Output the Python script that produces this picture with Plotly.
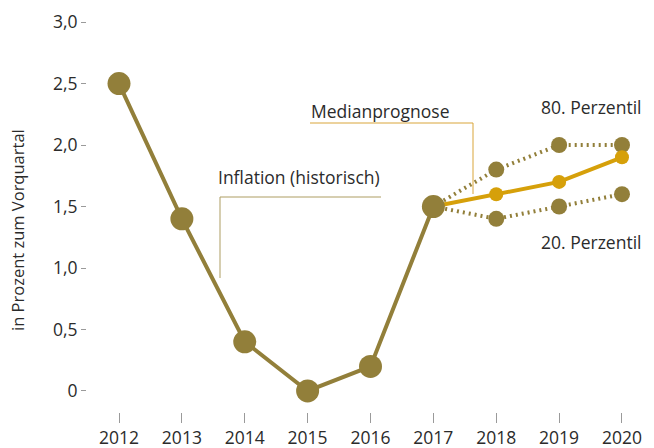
import plotly.graph_objects as go

# Inflation series and forecast bands
years_hist = [2012, 2013, 2014, 2015, 2016, 2017]
infl_hist = [2.5, 1.4, 0.4, 0.0, 0.2, 1.5]

years_fc = [2017, 2018, 2019, 2020]
median_fc = [1.5, 1.6, 1.7, 1.9]
p80_fc = [1.5, 1.8, 2.0, 2.0]
p20_fc = [1.5, 1.4, 1.5, 1.6]

y_ticks = [0, 0.5, 1.0, 1.5, 2.0, 2.5, 3.0]
y_tick_text = ["0", "0,5", "1,0", "1,5", "2,0", "2,5", "3,0"]
x_ticks = list(range(2012, 2021))

OLIVE = "#927f3a"
GOLD = "#d6a00a"
TEXT = "#2b2b2b"
FONT = "Open Sans"

W, H = 654, 448
ML, MR, MT, MB = 87, 10, 10, 36
X_RANGE = [2011.491, 2020.35]
Y_RANGE = [-0.171, 3.098]


def px_x(px):
    # pixel column -> x data value
    frac = (px - ML) / (W - ML - MR)
    return X_RANGE[0] + frac * (X_RANGE[1] - X_RANGE[0])


def px_y(py):
    # pixel row -> y data value
    frac = (H - MB - py) / (H - MT - MB)
    return Y_RANGE[0] + frac * (Y_RANGE[1] - Y_RANGE[0])


fig = go.Figure()

# percentile bands (dotted)
for vals in (p80_fc, p20_fc):
    fig.add_trace(go.Scatter(
        x=years_fc, y=vals, mode="lines+markers",
        line=dict(color=OLIVE, width=4, dash="2px,4px"),
        marker=dict(color=OLIVE, size=16),
        showlegend=False, hoverinfo="skip",
    ))

# median forecast
fig.add_trace(go.Scatter(
    x=years_fc, y=median_fc, mode="lines+markers",
    line=dict(color=GOLD, width=4),
    marker=dict(color=GOLD, size=14),
    showlegend=False,
))

# historical inflation
fig.add_trace(go.Scatter(
    x=years_hist, y=infl_hist, mode="lines+markers",
    line=dict(color=OLIVE, width=4),
    marker=dict(color=OLIVE, size=23),
    showlegend=False,
))

# leader lines for the labels
LEADER_HIST = "#ad9d62"
LEADER_MED = "#d9a53a"
fig.add_shape(type="line", x0=px_x(220), x1=px_x(381), y0=px_y(197), y1=px_y(197),
              line=dict(color=LEADER_HIST, width=1))
fig.add_shape(type="line", x0=px_x(220), x1=px_x(220), y0=px_y(197), y1=px_y(278),
              line=dict(color=LEADER_HIST, width=1))
fig.add_shape(type="line", x0=px_x(310), x1=px_x(473), y0=px_y(123), y1=px_y(123),
              line=dict(color=LEADER_MED, width=1))
fig.add_shape(type="line", x0=px_x(473), x1=px_x(473), y0=px_y(123), y1=px_y(194),
              line=dict(color=LEADER_MED, width=1))

labels = [
    ("Inflation (historisch)", 216, 177),
    ("Medianprognose", 309, 111),
    ("80. Perzentil", 539, 107),
    ("20. Perzentil", 539, 242),
]
for text, lx, ly in labels:
    fig.add_annotation(x=px_x(lx), y=px_y(ly), text=text, showarrow=False,
                       xanchor="left", yanchor="middle",
                       font=dict(family=FONT, size=17.5, color=TEXT))

# axis title, placed in pixel space
fig.add_annotation(x=(18 - ML) / (W - ML - MR), y=(H - MB - 230) / (H - MT - MB),
                   xref="paper", yref="paper", text="in Prozent zum Vorquartal",
                   showarrow=False, textangle=-90, xanchor="center", yanchor="middle",
                   font=dict(family=FONT, size=16.5, color=TEXT))

fig.update_layout(
    width=W, height=H,
    margin=dict(l=ML, r=MR, t=MT, b=MB, autoexpand=False),
    paper_bgcolor="white", plot_bgcolor="white",
    font=dict(family=FONT, size=17.5, color=TEXT),
    xaxis=dict(range=X_RANGE, tickvals=x_ticks, ticktext=[str(v) for v in x_ticks],
               showgrid=False, zeroline=False, showline=False, automargin=False,
               ticks="outside", ticklen=10, tickcolor="#9a9a9a", tickwidth=1,
               tickfont=dict(family=FONT, size=17.5, color=TEXT)),
    yaxis=dict(range=Y_RANGE, tickvals=y_ticks, ticktext=y_tick_text,
               showgrid=False, zeroline=False, showline=False, automargin=False,
               ticks="outside", ticklen=5, tickcolor="#9a9a9a", tickwidth=1,
               tickfont=dict(family=FONT, size=17.5, color=TEXT)),
)

fig.write_html("out.html")
